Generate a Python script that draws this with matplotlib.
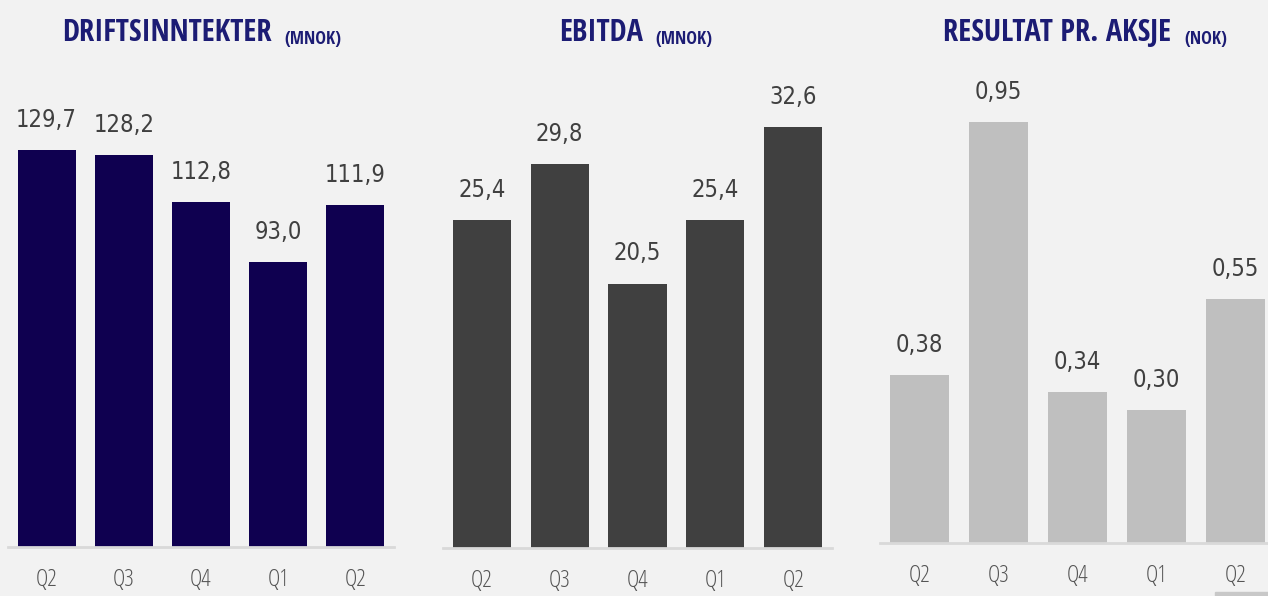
import matplotlib.pyplot as plt
import matplotlib.patches as mpatches

# Data
kvartaler = ['Q2', 'Q3', 'Q4', 'Q1', 'Q2']
driftsinntekter = [129.7, 128.2, 112.8, 93.0, 111.9]
ebitda = [25.4, 29.8, 20.5, 25.4, 32.6]
resultat_aksje = [0.38, 0.95, 0.34, 0.30, 0.55]

W, H = 1268, 596
bg = '#f2f2f2'
tittel_farge = '#1c1c74'

fig = plt.figure(figsize=(W / 100, H / 100), dpi=100)
fig.patch.set_facecolor(bg)


def panel(x0, x1, base, top_px, px_per_unit, verdier, farge, fmt):
    ax = fig.add_axes([x0 / W, (H - base) / H, (x1 - x0) / W, (base - top_px) / H])
    ax.set_facecolor('none')
    ax.bar(range(len(verdier)), verdier, width=0.75, color=farge)
    ax.set_xlim(-0.5, 4.5)
    ax.set_ylim(0, (base - top_px) / px_per_unit)
    for i, v in enumerate(verdier):
        ax.annotate(fmt(v), (i, v), xytext=(0, 13), textcoords='offset points',
                    ha='center', va='bottom', fontsize=17, color='#404040',
                    family='DejaVu Sans', stretch='condensed')
    for s in ['top', 'right', 'left']:
        ax.spines[s].set_visible(False)
    ax.spines['bottom'].set_color('#d9d9d9')
    ax.spines['bottom'].set_linewidth(2)
    ax.set_yticks([])
    ax.set_xticks(range(len(kvartaler)))
    ax.set_xticklabels(kvartaler, fontsize=17, color='#555555', family='Open Sans',
                       stretch='condensed', fontweight=300)
    ax.tick_params(axis='x', length=0, pad=15)
    return ax


fmt1 = lambda v: f'{v:.1f}'.replace('.', ',')
fmt2 = lambda v: f'{v:.2f}'.replace('.', ',')

panel(8, 394, 547, 60, 3.06, driftsinntekter, '#0f0050', fmt1)
panel(443, 832, 548, 60, 12.9, ebitda, '#404040', fmt1)
panel(880, 1275, 543, 60, 443, resultat_aksje, '#bfbfbf', fmt2)

# Titler
titler = [('DRIFTSINNTEKTER', 272, '(MNOK)', 284),
          ('EBITDA', 643, '(MNOK)', 655),
          ('RESULTAT PR. AKSJE', 1171, '(NOK)', 1184)]
for hoved, xe, enhet, xs in titler:
    fig.text(xe / W, 1 - 33 / H, hoved, ha='right', va='center', fontsize=22,
             fontweight='bold', color=tittel_farge, family='Open Sans Condensed')
    fig.text(xs / W, 1 - 39 / H, enhet, ha='left', va='center', fontsize=13,
             fontweight='bold', color=tittel_farge, family='Open Sans Condensed')

# liten grå bit nederst til høyre
fig.patches.append(mpatches.Rectangle((1215 / W, 0), 53 / W, 4 / H,
                                      transform=fig.transFigure, color='#c8c8c8'))

fig.savefig('out.png', dpi=100, facecolor=bg)
